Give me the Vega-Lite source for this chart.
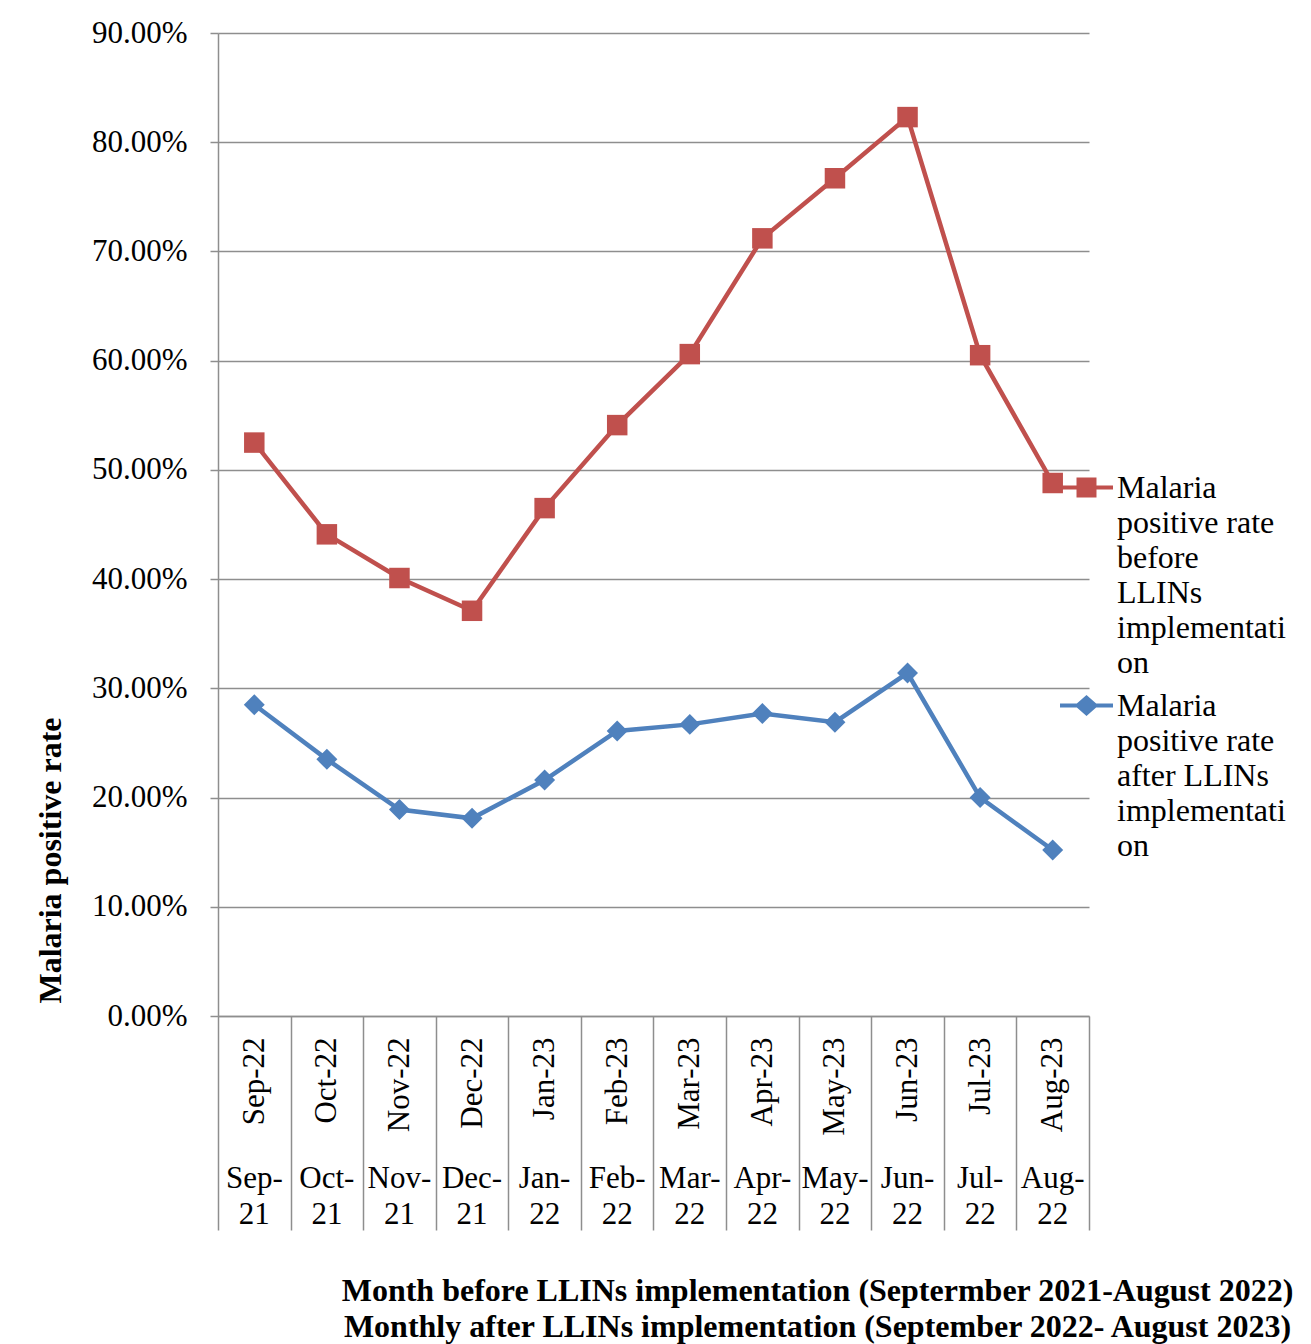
{
  "$schema": "https://vega.github.io/schema/vega-lite/v6.json",
  "width": 871,
  "height": 983,
  "autosize": {"type": "none"},
  "padding": {"left": 218, "top": 33, "right": 222, "bottom": 328},
  "background": "white",
  "config": {
    "font": "Liberation Serif",
    "view": {"stroke": null},
    "axis": {"labelColor": "black", "titleColor": "black", "domainColor": "#8e8e8e", "tickColor": "#8e8e8e", "gridColor": "#8e8e8e", "domainWidth": 1.5, "tickWidth": 1.5, "gridWidth": 1.5}
  },
  "data": {
    "values": [
      {"after": "Sep-22", "before": "Sep-21", "series": "Malaria positive rate before LLINs implementation", "rate": 0.525},
      {"after": "Oct-22", "before": "Oct-21", "series": "Malaria positive rate before LLINs implementation", "rate": 0.441},
      {"after": "Nov-22", "before": "Nov-21", "series": "Malaria positive rate before LLINs implementation", "rate": 0.401},
      {"after": "Dec-22", "before": "Dec-21", "series": "Malaria positive rate before LLINs implementation", "rate": 0.371},
      {"after": "Jan-23", "before": "Jan-22", "series": "Malaria positive rate before LLINs implementation", "rate": 0.465},
      {"after": "Feb-23", "before": "Feb-22", "series": "Malaria positive rate before LLINs implementation", "rate": 0.541},
      {"after": "Mar-23", "before": "Mar-22", "series": "Malaria positive rate before LLINs implementation", "rate": 0.606},
      {"after": "Apr-23", "before": "Apr-22", "series": "Malaria positive rate before LLINs implementation", "rate": 0.712},
      {"after": "May-23", "before": "May-22", "series": "Malaria positive rate before LLINs implementation", "rate": 0.767},
      {"after": "Jun-23", "before": "Jun-22", "series": "Malaria positive rate before LLINs implementation", "rate": 0.823},
      {"after": "Jul-23", "before": "Jul-22", "series": "Malaria positive rate before LLINs implementation", "rate": 0.605},
      {"after": "Aug-23", "before": "Aug-22", "series": "Malaria positive rate before LLINs implementation", "rate": 0.488},
      {"after": "Sep-22", "before": "Sep-21", "series": "Malaria positive rate after LLINs implementation", "rate": 0.285},
      {"after": "Oct-22", "before": "Oct-21", "series": "Malaria positive rate after LLINs implementation", "rate": 0.235},
      {"after": "Nov-22", "before": "Nov-21", "series": "Malaria positive rate after LLINs implementation", "rate": 0.189},
      {"after": "Dec-22", "before": "Dec-21", "series": "Malaria positive rate after LLINs implementation", "rate": 0.181},
      {"after": "Jan-23", "before": "Jan-22", "series": "Malaria positive rate after LLINs implementation", "rate": 0.216},
      {"after": "Feb-23", "before": "Feb-22", "series": "Malaria positive rate after LLINs implementation", "rate": 0.261},
      {"after": "Mar-23", "before": "Mar-22", "series": "Malaria positive rate after LLINs implementation", "rate": 0.267},
      {"after": "Apr-23", "before": "Apr-22", "series": "Malaria positive rate after LLINs implementation", "rate": 0.277},
      {"after": "May-23", "before": "May-22", "series": "Malaria positive rate after LLINs implementation", "rate": 0.269},
      {"after": "Jun-23", "before": "Jun-22", "series": "Malaria positive rate after LLINs implementation", "rate": 0.314},
      {"after": "Jul-23", "before": "Jul-22", "series": "Malaria positive rate after LLINs implementation", "rate": 0.200},
      {"after": "Aug-23", "before": "Aug-22", "series": "Malaria positive rate after LLINs implementation", "rate": 0.152}
    ]
  },
  "encoding": {
    "y": {
      "field": "rate",
      "type": "quantitative",
      "scale": {"domain": [0, 0.9], "nice": false},
      "axis": {
        "title": "Malaria positive rate",
        "format": ".2%",
        "values": [0, 0.1, 0.2, 0.3, 0.4, 0.5, 0.6, 0.7, 0.8, 0.9],
        "grid": true,
        "tickSize": 8,
        "labelPadding": 23,
        "labelFontSize": 31,
        "titleFontSize": 32,
        "titleFontWeight": "bold",
        "titleX": -168,
        "titleY": 827,
        "titleAngle": 270,
        "titleAlign": "center",
        "titleBaseline": "middle"
      }
    },
    "color": {
      "field": "series", "type": "nominal",
      "scale": {"domain": ["Malaria positive rate before LLINs implementation", "Malaria positive rate after LLINs implementation"], "range": ["#C0504D", "#4F81BD"]}
    }
  },
  "layer": [
    {
      "mark": {"type": "line", "strokeWidth": 4.5},
      "encoding": {
        "x": {
          "field": "after", "type": "ordinal", "sort": null, "bandPosition": 0.5,
          "scale": {"type": "band", "paddingInner": 0, "paddingOuter": 0},
          "axis": {
            "orient": "bottom", "title": null, "labelAngle": 270, "labelAlign": "right", "labelBaseline": "middle",
            "tickSize": 214, "tickBand": "extent", "labelPadding": -193, "labelFontSize": 31, "grid": false
          }
        },
        "color": {
          "field": "series", "type": "nominal",
          "legend": {
            "orient": "none", "legendX": 842, "legendY": 428, "title": null, "padding": 0,
            "symbolSize": 2809, "labelFontSize": 32, "labelLimit": 400, "labelOffset": 4, "labelBaseline": "middle", "rowPadding": 0,
            "symbolOpacity": 1,
            "labelExpr": "datum.label == 'Malaria positive rate before LLINs implementation' ? ['Malaria', 'positive rate', 'before', 'LLINs', 'implementati', 'on'] : ['Malaria', 'positive rate', 'after LLINs', 'implementati', 'on']",
            "encode": {
              "symbols": {"update": {
                "shape": {"signal": "datum.value == 'Malaria positive rate before LLINs implementation' ? 'M-1,-0.08H1V0.08H-1Z M-0.377,-0.377H0.377V0.377H-0.377Z' : 'M-1,-0.08H1V0.08H-1Z M0,-0.4L0.45,0L0,0.4L-0.45,0Z'"},
                "fill": {"signal": "datum.value == 'Malaria positive rate before LLINs implementation' ? '#C0504D' : '#4F81BD'"},
                "strokeWidth": {"value": 0}
              }},
              "labels": {"update": {"lineHeight": {"value": 35}}}
            }
          }
        }
      }
    },
    {
      "transform": [{"filter": "datum.series == 'Malaria positive rate before LLINs implementation'"}],
      "mark": {"type": "point", "filled": true, "opacity": 1, "size": 420, "shape": "square"},
      "encoding": {
        "x": {
          "field": "after", "type": "ordinal", "sort": null, "bandPosition": 0.5,
          "axis": {
            "orient": "bottom", "ticks": false, "domain": false, "grid": false, "labelAngle": 0, "labelAlign": "center",
            "labelBaseline": "top", "labelPadding": 147, "labelFontSize": 31, "labelLineHeight": 36,
            "labelExpr": "{'Sep-22': ['Sep-', '21'], 'Oct-22': ['Oct-', '21'], 'Nov-22': ['Nov-', '21'], 'Dec-22': ['Dec-', '21'], 'Jan-23': ['Jan-', '22'], 'Feb-23': ['Feb-', '22'], 'Mar-23': ['Mar-', '22'], 'Apr-23': ['Apr-', '22'], 'May-23': ['May-', '22'], 'Jun-23': ['Jun-', '22'], 'Jul-23': ['Jul-', '22'], 'Aug-23': ['Aug-', '22']}[datum.label]",
            "title": ["Month before  LLINs implementation (Septermber 2021-August 2022)", "Monthly after LLINs implementation (September 2022- August 2023)"],
            "titleFontSize": 32, "titleFontWeight": "bold", "titleLineHeight": 36,
            "titleX": 599, "titleY": 284, "titleAlign": "center", "titleBaseline": "alphabetic"
          }
        }
      }
    },
    {
      "transform": [{"filter": "datum.series == 'Malaria positive rate after LLINs implementation'"}],
      "mark": {"type": "point", "filled": true, "opacity": 1, "size": 440, "shape": "diamond"},
      "encoding": {
        "x": {"field": "after", "type": "ordinal", "sort": null, "bandPosition": 0.5, "axis": null}
      }
    }
  ],
  "resolve": {"axis": {"x": "independent"}}
}
